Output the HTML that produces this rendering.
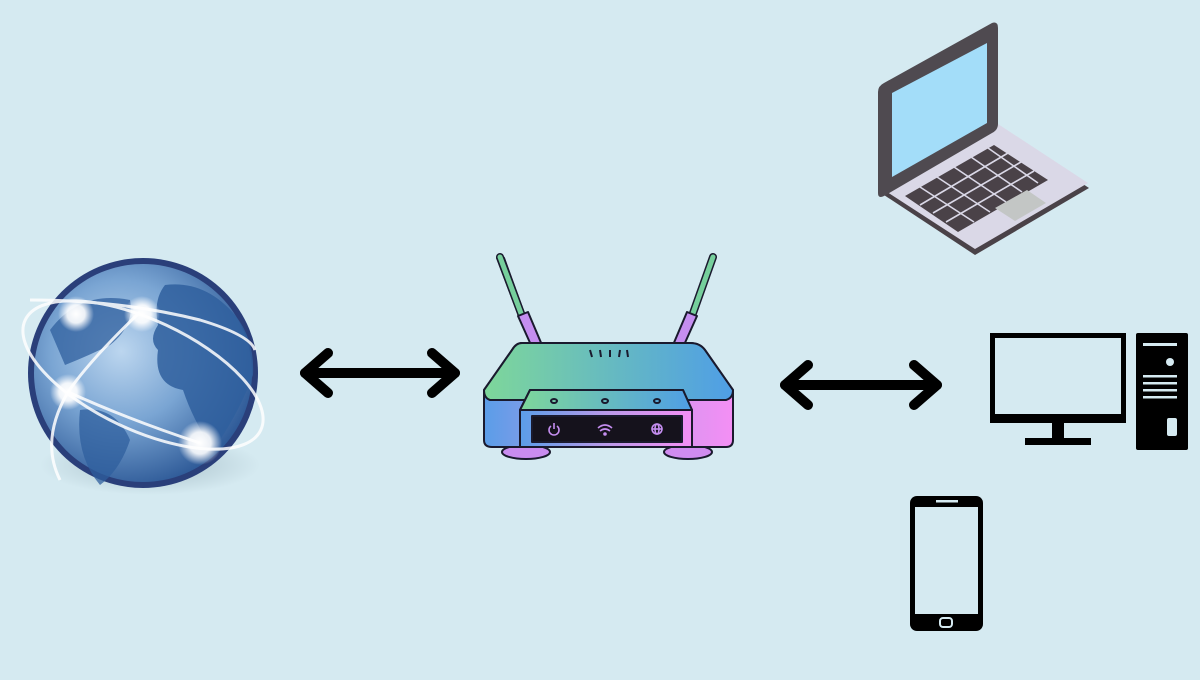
<!DOCTYPE html>
<html><head><style>
body{margin:0;width:1200px;height:675px;background:#d5eaf1;overflow:hidden}
</style></head><body>
<svg width="1200" height="675" viewBox="0 0 1200 675" xmlns="http://www.w3.org/2000/svg">
<defs>
<radialGradient id="gb" cx="0.4" cy="0.4" r="0.65">
<stop offset="0" stop-color="#bcd6ef"/><stop offset="0.5" stop-color="#7aa5d3"/><stop offset="1" stop-color="#2c5896"/>
</radialGradient>
<radialGradient id="glow"><stop offset="0" stop-color="#fff"/><stop offset="0.5" stop-color="#fff" stop-opacity="0.9"/><stop offset="1" stop-color="#fff" stop-opacity="0"/></radialGradient>
<radialGradient id="sh"><stop offset="0" stop-color="#8aa3ae" stop-opacity="0.6"/><stop offset="1" stop-color="#8aa3ae" stop-opacity="0"/></radialGradient>
<linearGradient id="rt" x1="0" x2="1"><stop offset="0" stop-color="#7ed79a"/><stop offset="1" stop-color="#4f9ee6"/></linearGradient>
<linearGradient id="rf" x1="0" x2="1"><stop offset="0" stop-color="#5a9de8"/><stop offset="0.5" stop-color="#b99ae9"/><stop offset="1" stop-color="#f48ff5"/></linearGradient>
<linearGradient id="ant" x1="0" y1="0" x2="0" y2="1"><stop offset="0" stop-color="#74d09a"/><stop offset="0.6" stop-color="#4f9ee6"/><stop offset="1" stop-color="#d08cf0"/></linearGradient>
</defs>
<!-- globe -->
<ellipse cx="150" cy="465" rx="110" ry="30" fill="url(#sh)"/>
<circle cx="143" cy="373" r="115" fill="#2a3f7a"/>
<circle cx="143" cy="373" r="109" fill="url(#gb)"/>
<path d="M165 285 q40 -5 70 30 q20 25 18 60 q-15 40 -40 75 q-20 -30 -30 -60 q-30 -5 -25 -40 q-10 -10 0 -25 q-5 -25 7 -40z" fill="#2f5f9e" opacity="0.85"/>
<path d="M50 330 q30 -40 80 -30 q5 25 -20 45 q-20 10 -45 20z" fill="#2f5f9e" opacity="0.75"/>
<path d="M80 410 q35 -5 50 30 q-10 30 -30 45 q-25 -30 -20 -75z" fill="#2f5f9e" opacity="0.75"/>
<g fill="none" stroke="#fff" stroke-width="3" opacity="0.85">
<ellipse cx="143" cy="375" rx="130" ry="55" transform="rotate(25 143 375)"/>
<path d="M30 300 Q120 300 200 320 Q250 335 255 350"/>
<path d="M140 312 Q90 360 68 392 Q40 440 60 480"/>
<path d="M68 392 Q130 420 200 443"/>
</g>
<circle cx="76" cy="314" r="18" fill="url(#glow)"/>
<circle cx="142" cy="314" r="18" fill="url(#glow)"/>
<circle cx="68" cy="392" r="18" fill="url(#glow)"/>
<circle cx="200" cy="443" r="22" fill="url(#glow)"/>
<!-- arrows -->
<g stroke="#000" stroke-width="10" fill="none" stroke-linecap="round" stroke-linejoin="round">
<line x1="305" y1="373" x2="455" y2="373"/>
<polyline points="328,353 305,373 328,393"/>
<polyline points="432,353 455,373 432,393"/>
<line x1="785" y1="385" x2="937" y2="385"/>
<polyline points="808,365 785,385 808,405"/>
<polyline points="914,365 937,385 914,405"/>
</g>
<!-- router -->
<g stroke="#1a1a2e" stroke-width="2" stroke-linejoin="round">
<path d="M497 258 Q500 253 504 258 L525 316 L519 316 Z" fill="url(#ant)"/>
<line x1="500" y1="257" x2="522" y2="316" stroke="#1a1a2e" stroke-width="8" stroke-linecap="round"/>
<line x1="500" y1="257" x2="522" y2="316" stroke="#76cf9c" stroke-width="5" stroke-linecap="round"/>
<path d="M518 316 L528 312 L542 345 L531 345 Z" fill="#c58ef0"/>
<line x1="713" y1="257" x2="692" y2="316" stroke="#1a1a2e" stroke-width="8" stroke-linecap="round"/>
<line x1="713" y1="257" x2="692" y2="316" stroke="#76cf9c" stroke-width="5" stroke-linecap="round"/>
<path d="M687 312 L697 316 L684 345 L673 345 Z" fill="#c58ef0"/>
<ellipse cx="526" cy="452" rx="24" ry="7" fill="#c98cf0"/>
<ellipse cx="688" cy="452" rx="24" ry="7" fill="#d08cf0"/>
<path d="M522 343 L690 343 Q700 343 705 350 L733 390 L733 440 Q733 447 726 447 L492 447 Q484 447 484 440 L484 390 L512 350 Q516 343 522 343 Z" fill="url(#rf)"/>
<path d="M522 343 L690 343 Q700 343 705 350 L733 390 Q733 398 726 400 L490 400 Q484 398 484 390 L512 350 Q516 343 522 343 Z" fill="url(#rt)"/>
<path d="M530 390 L683 390 L692 410 L692 447 L520 447 L520 410 Z" fill="url(#rf)"/>
<path d="M530 390 L683 390 L692 410 L520 410 Z" fill="url(#rt)"/>
<rect x="532" y="416" width="150" height="26" fill="#15121c"/>
<line x1="592" y1="357" x2="590" y2="350"/><line x1="601" y1="357" x2="600" y2="350"/><line x1="610" y1="357" x2="610" y2="350"/><line x1="619" y1="357" x2="620" y2="350"/><line x1="628" y1="357" x2="627" y2="350"/>
<ellipse cx="554" cy="401" rx="3" ry="2" fill="none"/><ellipse cx="605" cy="401" rx="3" ry="2" fill="none"/><ellipse cx="657" cy="401" rx="3" ry="2" fill="none"/>
</g>
<g stroke="#c58ef0" stroke-width="1.6" fill="none">
<path d="M551 426 a5 5 0 1 0 6 0"/><line x1="554" y1="423" x2="554" y2="429"/>
<path d="M598 428 q7 -6 14 0 M600 431 q5 -4 10 0"/><circle cx="605" cy="434" r="1" fill="#c58ef0"/>
<circle cx="657" cy="429" r="5"/><line x1="652" y1="429" x2="662" y2="429"/><ellipse cx="657" cy="429" rx="2" ry="5"/>
</g>
<!-- laptop -->
<path d="M884 195 L998 128 L1089 188 L975 255 Z" fill="#4a4248"/>
<path d="M884 190 L998 124 L1088 183 L975 249 Z" fill="#dad8e7"/>
<path d="M878 92 Q878 86 884 83 L992 23 Q998 21 998 28 L998 124 Q998 130 992 133 L884 196 Q878 199 878 193 Z" fill="#4f4a50"/>
<path d="M892 93 L987 43 L987 123 L892 177 Z" fill="#a3ddf9"/>
<path d="M905 196 L994 145 L1048 180 L958 232 Z" fill="#4a4248"/>
<g stroke="#dad8e7" stroke-width="1.6">
<line x1="920" y1="205" x2="1008" y2="153"/><line x1="933" y1="213" x2="1021" y2="162"/><line x1="946" y1="222" x2="1034" y2="171"/>
<line x1="920" y1="187" x2="974" y2="222"/><line x1="937" y1="177" x2="990" y2="212"/><line x1="954" y1="167" x2="1006" y2="202"/><line x1="971" y1="157" x2="1022" y2="192"/><line x1="988" y1="148" x2="1038" y2="183"/>
</g>
<path d="M995 208 L1027 190 L1046 203 L1015 221 Z" fill="#c3c6c5"/>
<!-- desktop -->
<rect x="990" y="333" width="136" height="90" fill="#000"/>
<rect x="995" y="338" width="126" height="76" fill="#d5eaf1"/>
<rect x="1052" y="423" width="12" height="16" fill="#000"/>
<rect x="1025" y="438" width="66" height="7" fill="#000"/>
<rect x="1136" y="333" width="52" height="117" rx="2" fill="#000"/>
<g fill="#d5eaf1"><rect x="1143" y="343" width="34" height="3"/><rect x="1166" y="358" width="8" height="8" rx="4"/><rect x="1143" y="375" width="34" height="2.5"/><rect x="1143" y="382" width="34" height="2.5"/><rect x="1143" y="389" width="34" height="2.5"/><rect x="1143" y="396" width="34" height="2.5"/><rect x="1167" y="418" width="10" height="18" rx="2"/></g>
<!-- phone -->
<rect x="910" y="496" width="73" height="135" rx="7" fill="#000"/>
<rect x="915" y="507" width="63" height="107" fill="#d5eaf1"/>
<rect x="936" y="500" width="22" height="2.5" fill="#d5eaf1"/>
<rect x="940" y="618" width="12" height="9" rx="3" fill="none" stroke="#d5eaf1" stroke-width="2"/>
</svg>
</body></html>
